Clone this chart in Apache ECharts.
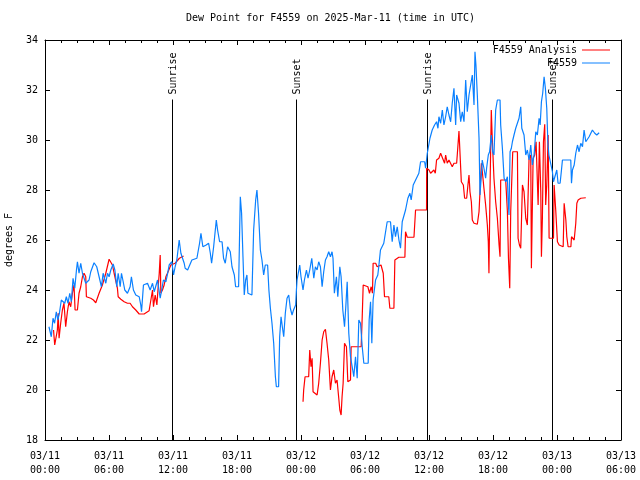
<!DOCTYPE html>
<html><head><meta charset="utf-8">
<script src="https://cdn.jsdelivr.net/npm/echarts@6/dist/echarts.min.js"></script>
<style>html,body{margin:0;padding:0;background:#fff}#c{width:640px;height:480px}</style>
</head><body><div id="c"></div>
<script>
const titleText = 'Dew Point for F4559 on 2025-Mar-11 (time in UTC)';
const yAxisName = 'degrees F';
const seriesNames = ['F4559 Analysis', 'F4559'];

// hours since 03/11 00:00 UTC
const obsHours = [0.37,0.59,0.75,0.9,1.06,1.2,1.35,1.53,1.69,1.85,2.0,2.16,2.32,2.47,2.63,2.79,2.95,3.04,3.19,3.35,3.51,3.66,3.82,4.13,4.29,4.6,4.85,5.07,5.29,5.45,5.7,5.86,6.01,6.17,6.39,6.55,6.73,6.86,7.05,7.17,7.33,7.48,7.73,7.98,8.1,8.29,8.51,8.83,8.98,9.05,9.23,9.61,9.86,10.08,10.24,10.55,10.8,10.95,11.1,11.33,11.5,11.64,11.89,12.05,12.2,12.36,12.58,12.74,12.9,13.05,13.14,13.37,13.77,14.24,14.49,14.62,14.8,15.11,15.34,15.5,15.62,15.81,16.06,16.18,16.37,16.6,16.74,16.9,17.12,17.37,17.53,17.75,17.87,18.15,18.31,18.43,18.56,18.68,18.81,18.93,19.02,19.18,19.4,19.56,19.75,19.87,20.02,20.19,20.34,20.5,20.65,20.87,20.99,21.13,21.28,21.44,21.6,21.69,21.9,22.0,22.13,22.25,22.38,22.53,22.69,22.85,23.0,23.16,23.3,23.5,23.57,23.63,23.88,24.0,24.19,24.32,24.51,24.66,24.82,25.01,25.2,25.35,25.51,25.66,25.82,25.98,26.13,26.29,26.44,26.6,26.76,26.91,27.0,27.13,27.32,27.45,27.64,27.76,27.92,28.08,28.2,28.33,28.48,28.64,28.8,28.95,29.11,29.27,29.42,29.58,29.74,29.89,30.05,30.3,30.39,30.52,30.64,30.76,30.99,31.2,31.29,31.45,31.76,32.08,32.39,32.55,32.71,32.86,33.02,33.18,33.33,33.49,33.65,33.8,34.02,34.21,34.33,34.52,35.05,35.21,35.59,35.68,35.84,36.09,36.3,36.52,36.71,36.84,36.93,37.09,37.25,37.4,37.56,37.71,37.87,38.03,38.18,38.34,38.5,38.59,38.81,38.97,39.12,39.28,39.44,39.59,39.75,39.9,40.06,40.22,40.31,40.4,40.53,40.69,40.78,40.91,40.99,41.15,41.31,41.4,41.56,41.68,41.84,41.97,42.09,42.25,42.41,42.66,42.72,42.88,43.04,43.19,43.35,43.41,43.5,43.6,43.72,43.82,43.97,44.13,44.29,44.44,44.6,44.7,44.91,45.07,45.22,45.38,45.54,45.69,45.85,46.01,46.16,46.32,46.42,46.54,46.66,46.79,46.85,46.91,47.04,47.14,47.24,47.42,47.57,47.67,47.79,47.98,48.1,48.29,48.42,48.51,49.29,49.36,49.45,49.61,49.76,49.86,49.92,50.07,50.23,50.39,50.54,50.7,50.86,51.01,51.17,51.32,51.42,51.54,51.73,51.95];
const obsValues = [22.53,22.13,22.87,22.67,23.13,22.8,23.07,23.6,23.67,23.47,23.73,23.47,23.87,23.53,24.47,24.07,24.8,25.13,24.67,25.07,24.67,24.73,24.27,24.4,24.73,25.09,24.93,24.53,24.13,24.67,24.27,24.67,24.53,24.8,25.04,24.8,24.13,24.67,24.13,24.67,24.33,24.0,23.87,24.13,24.53,24.0,23.8,23.73,23.4,23.13,24.2,24.27,24.0,24.27,23.93,24.4,23.67,23.67,24.4,24.33,24.67,25.0,25.13,24.6,24.93,25.2,26.0,25.47,25.53,25.07,24.87,24.8,25.2,25.27,25.87,26.27,25.73,25.8,25.87,25.47,25.07,25.73,26.8,26.4,25.93,25.93,25.27,25.07,25.73,25.53,24.93,24.6,24.13,24.13,27.73,27.07,25.33,23.8,24.4,24.6,23.87,23.8,23.8,26.4,27.6,28.0,27.07,25.6,25.2,24.6,25.0,25.0,24.0,23.27,22.67,21.87,20.53,20.13,20.13,22.13,22.93,22.53,22.13,23.07,23.67,23.8,23.27,23.0,23.2,23.4,24.0,24.4,25.0,24.53,24.0,24.4,24.8,24.47,24.8,25.27,24.47,24.93,24.8,25.13,24.93,24.13,24.73,25.2,25.33,25.53,25.33,25.53,25.27,23.87,24.53,23.73,24.93,24.53,23.2,22.53,23.33,24.33,22.27,21.33,20.93,20.53,21.33,20.47,22.8,22.67,21.73,21.07,21.0,21.07,22.8,23.53,21.87,23.6,24.4,24.6,24.93,25.6,25.87,26.73,26.73,25.93,26.6,26.13,26.53,26.0,25.67,26.73,26.73,27.2,27.67,27.87,27.6,28.2,28.67,29.13,29.13,28.87,29.47,30.07,30.4,30.6,30.73,30.47,30.93,30.67,31.2,30.6,30.93,31.33,31.0,30.73,31.47,32.07,30.6,31.8,31.47,30.73,31.13,30.73,32.4,31.13,31.8,31.8,32.6,31.4,33.53,33.0,31.8,30.07,27.8,28.6,29.2,28.87,28.47,28.87,29.4,29.53,30.2,29.53,29.4,31.2,31.6,31.6,30.6,29.67,28.47,28.33,28.53,27.67,27.0,29.53,29.67,29.93,30.2,30.47,30.53,30.87,31.33,30.47,30.2,29.4,29.6,29.2,29.8,29.0,29.4,30.33,30.2,30.87,30.6,31.53,31.87,32.53,32.53,32.07,31.27,29.93,29.4,29.4,28.73,28.33,28.27,28.8,28.27,28.27,28.8,29.2,29.2,28.27,28.8,29.0,29.47,29.47,29.8,29.53,29.87,29.73,30.4,29.93,30.0,30.13,30.27,30.4,30.43,30.27,30.2,30.29];

const anaHours = [0.8,0.91,1.06,1.16,1.24,1.32,1.47,1.63,1.78,1.94,2.1,2.25,2.41,2.57,2.72,2.82,3.04,3.19,3.35,3.51,3.66,3.82,3.88,4.29,4.54,4.76,5.07,5.38,5.7,6.01,6.17,6.32,6.48,6.64,6.79,6.86,7.11,7.42,7.73,7.98,8.2,8.51,8.83,9.29,9.76,9.92,10.08,10.17,10.33,10.49,10.61,10.71,10.8,10.86,11.01,11.17,11.33,11.48,11.8,12.2,12.6,12.99,18,24.19,24.25,24.38,24.72,24.82,24.94,25.04,25.13,25.51,25.66,25.82,25.98,26.13,26.29,26.44,26.6,26.76,26.91,27.07,27.23,27.38,27.54,27.64,27.76,27.85,27.95,28.08,28.26,28.39,28.64,28.7,29.64,29.74,29.83,30.27,30.42,30.58,30.7,30.76,31.0,31.14,31.29,31.5,31.71,31.83,32.23,32.33,32.71,32.8,33.17,33.74,33.8,33.96,34.59,34.74,35.46,35.77,35.78,36.0,36.15,36.46,36.59,36.71,36.93,37.09,37.25,37.46,37.56,37.71,37.87,38.03,38.18,38.34,38.59,38.65,38.81,38.97,39.03,39.22,39.34,39.53,39.65,39.75,39.84,39.97,40.06,40.22,40.53,40.69,40.78,40.91,41.0,41.15,41.31,41.47,41.56,41.62,41.72,41.84,41.93,42.09,42.25,42.41,42.57,42.66,42.72,43.19,43.35,43.45,43.57,43.66,43.85,44.29,44.35,44.48,44.6,44.76,44.91,45.07,45.22,45.38,45.54,45.6,45.76,45.91,46.04,46.16,46.23,46.35,46.48,46.54,46.63,46.73,46.85,46.94,47.04,47.17,47.26,47.67,47.73,47.88,48.04,48.2,48.58,48.67,48.83,48.92,49.04,49.3,49.36,49.54,49.61,49.76,49.86,49.98,50.23,50.7];
const anaValues = [22.4,21.8,21.8,22.4,23.07,22.07,22.67,23.2,23.47,22.53,23.13,23.53,23.33,23.87,24.2,23.2,23.2,23.87,24.13,24.53,24.67,24.53,23.73,23.67,23.6,23.49,23.87,24.2,24.67,25.23,25.17,25.0,24.67,24.73,24.07,23.73,23.63,23.53,23.47,23.47,23.33,23.2,23.04,23.04,23.17,23.2,24.0,23.33,23.8,23.4,24.13,24.67,25.4,23.87,24.0,24.2,24.53,24.67,25.0,25.07,25.27,25.36,'-',19.53,20.0,20.53,20.53,21.6,20.93,21.27,19.93,19.8,20.27,21.07,22.0,22.33,22.43,21.87,21.2,20.0,20.53,20.8,20.27,20.4,19.67,19.2,19.0,19.73,20.27,21.87,21.73,20.33,20.4,21.73,21.73,22.93,24.2,24.13,23.87,24.13,23.87,25.07,25.07,24.93,25.0,25.0,24.67,23.73,23.73,23.27,23.27,25.2,25.31,25.31,26.33,26.11,26.11,27.2,27.2,27.2,28.87,28.8,28.67,28.8,28.67,29.2,29.27,29.47,29.4,29.07,29.4,29.07,29.2,29.2,28.93,29.07,29.07,29.4,30.36,30.36,28.33,28.2,27.67,27.67,28.2,28.6,27.93,27.53,26.8,26.67,26.63,27.13,27.93,29.07,28.73,28.07,27.4,26.6,25.93,24.67,28.0,31.2,30.07,28.47,27.53,26.87,25.8,25.33,28.4,28.4,27.13,25.27,24.07,27.13,29.53,29.53,26.07,25.8,25.67,28.2,27.93,26.87,26.6,29.27,29.4,24.87,29.27,29.4,29.93,29.93,27.4,29.93,27.93,25.33,26.87,29.93,30.63,27.4,28.2,30.2,26.07,26.07,28.2,27.2,25.93,25.8,25.73,27.47,26.8,26.13,25.73,25.73,26.13,26.13,26.0,26.67,27.47,27.6,27.67,27.69];

const eventHours = [11.88, 23.5, 35.77, 47.5];
const eventLabels = ['Sunrise', 'Sunset', 'Sunrise', 'Sunset'];
const eventLineTop = 31.62;

const FONT = "'DejaVu Sans Mono', 'Liberation Mono', monospace";
function pad(n){ return (n < 10 ? '0' : '') + n; }
function fmtTime(v){
  const day = 11 + Math.floor(v / 24);
  const hr = Math.round(v % 24);
  return '03/' + pad(day) + '\n' + pad(hr) + ':00';
}
const zip = (a, b) => a.map((x, i) => [x, b[i]]);

const xBase = {
  type: 'value', min: 0, max: 54, interval: 6,
  axisLine: { show: true, onZero: false, lineStyle: { color: '#000', width: 1 } },
  axisTick: { show: true, inside: true, length: 5, lineStyle: { color: '#000' } },
  minorTick: { show: true, splitNumber: 4, length: 3, lineStyle: { color: '#000' } },
  splitLine: { show: false }, minorSplitLine: { show: false }
};
const yBase = {
  type: 'value', min: 18, max: 34, interval: 2,
  axisLine: { show: true, onZero: false, lineStyle: { color: '#000', width: 1 } },
  axisTick: { show: true, inside: true, length: 5, lineStyle: { color: '#000' } },
  splitLine: { show: false }
};

const chart = echarts.init(document.getElementById('c'), null, { renderer: 'canvas' });
chart.setOption({
  animation: false,
  backgroundColor: '#fff',
  title: {
    text: titleText, left: 186, top: 13, padding: 0,
    textStyle: { fontFamily: FONT, fontSize: 10, fontWeight: 'normal', color: '#000' }
  },
  grid: { left: 45, right: 19, top: 40, bottom: 40, containLabel: false, outerBoundsMode: 'none' },
  legend: {
    data: [
      { name: seriesNames[0], icon: 'rect' },
      { name: seriesNames[1], icon: 'rect' }
    ],
    orient: 'vertical', right: 30, top: 44, align: 'right',
    padding: 0, itemWidth: 28, itemHeight: 1, itemGap: 1,
    textStyle: { fontFamily: FONT, fontSize: 10, color: '#000', lineHeight: 12 }
  },
  xAxis: [
    Object.assign({}, xBase, {
      position: 'bottom',
      axisLabel: { show: true, showMinLabel: true, showMaxLabel: true, formatter: fmtTime,
        fontFamily: FONT, fontSize: 10, color: '#000', lineHeight: 14, margin: 9 }
    }),
    Object.assign({}, xBase, { position: 'top', axisLabel: { show: false } })
  ],
  yAxis: [
    Object.assign({}, yBase, {
      position: 'left', name: yAxisName, nameLocation: 'middle', nameGap: 31,
      nameTextStyle: { fontFamily: FONT, fontSize: 10, color: '#000' },
      axisLabel: { fontFamily: FONT, fontSize: 10, color: '#000', margin: 7 }
    }),
    Object.assign({}, yBase, { position: 'right', axisLabel: { show: false } })
  ],
  series: [
    {
      name: seriesNames[0], type: 'line', data: zip(anaHours, anaValues),
      symbol: 'none', showSymbol: false, connectNulls: false,
      color: '#ff0000', lineStyle: { color: '#ff0000', width: 1.2 }
    },
    {
      name: seriesNames[1], type: 'line', data: zip(obsHours, obsValues),
      symbol: 'none', showSymbol: false,
      color: '#0a80ff', lineStyle: { color: '#0a80ff', width: 1.2 }
    },
    {
      name: 'events', type: 'custom', silent: true,
      data: eventHours.map((h, i) => [h, i]),
      renderItem: function (params, api) {
        const h = api.value(0);
        const idx = api.value(1);
        const bottom = api.coord([h, 18]);
        const top = api.coord([h, eventLineTop]);
        const x = Math.round(bottom[0]) + 0.5;
        return {
          type: 'group',
          children: [
            { type: 'line', shape: { x1: x, y1: bottom[1], x2: x, y2: top[1] },
              style: { stroke: '#000', lineWidth: 1 } },
            { type: 'text', x: x + 1, y: top[1] - 5, rotation: Math.PI / 2,
              style: { text: eventLabels[idx], fill: '#000', font: '10px ' + FONT,
                align: 'left', verticalAlign: 'middle', textAlign: 'left', textVerticalAlign: 'middle' } }
          ]
        };
      },
      z: 3
    }
  ]
});
</script>
</body></html>
